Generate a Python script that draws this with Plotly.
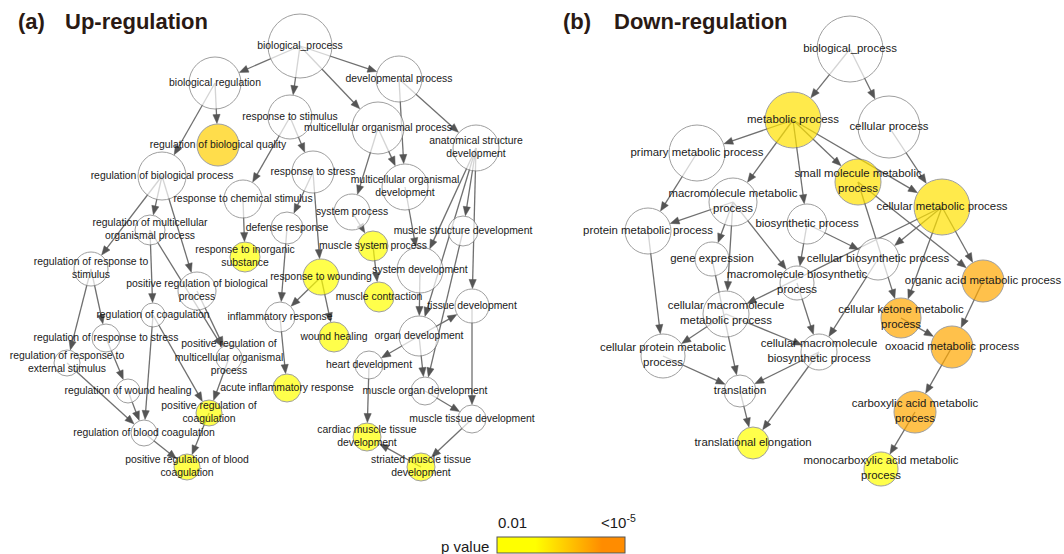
import math
import plotly.graph_objects as go

# ---------------- Panel (a): Up-regulation ----------------
a_names = ["bp", "breg", "dev", "rstim", "mop", "asd", "rbq", "rbp", "rstress", "mod",
           "rchem", "sysp", "defr", "rmop", "msd", "msp", "rinorg", "rrs", "sysdev", "rwound",
           "prbp", "mcon", "tdev", "rcoag", "infl", "odev", "wheal", "rrstress", "prmop", "rrext",
           "hdev", "acute", "rwh", "modev", "prcoag", "mtdev", "rbc", "cmtd", "prbc", "smtd"]
a_labels = ["biological_process", "biological regulation", "developmental process",
            "response to stimulus", "multicellular organismal process",
            "anatomical structure<br>development", "regulation of biological quality",
            "regulation of biological process", "response to stress",
            "multicellular organismal<br>development", "response to chemical stimulus",
            "system process", "defense response",
            "regulation of multicellular<br>organismal process",
            "muscle structure development", "muscle system process",
            "response to inorganic<br>substance", "regulation of response to<br>stimulus",
            "system development", "response to wounding",
            "positive regulation of biological<br>process", "muscle contraction",
            "tissue development", "regulation of coagulation", "inflammatory response",
            "organ development", "wound healing", "regulation of response to stress",
            "positive regulation of<br>multicellular organismal<br>process",
            "regulation of response to<br>external stimulus", "heart development",
            "acute inflammatory response", "regulation of wound healing",
            "muscle organ development", "positive regulation of<br>coagulation",
            "muscle tissue development", "regulation of blood coagulation",
            "cardiac muscle tissue<br>development", "positive regulation of blood<br>coagulation",
            "striated muscle tissue<br>development"]
a_x = [300, 215, 399, 290, 378, 476, 218, 162, 313, 405,
       243, 352, 287, 150, 463, 373, 245, 91, 420, 321,
       197, 379, 472, 153, 280, 419, 334, 106, 229, 67,
       369, 287, 128, 425, 209, 472, 144, 367, 187, 421]
a_y = [46, 83, 79, 117, 128, 148, 145, 176, 172, 187,
       199, 212, 228, 230, 231, 246, 257, 269, 270, 277,
       291, 297, 306, 315, 317, 336, 337, 338, 358, 363,
       365, 388, 391, 391, 413, 419, 433, 437, 467, 467]
a_r = [32, 26, 23, 22, 26, 23, 21, 24, 21, 23,
       19, 18, 16, 15, 15, 15, 15, 17, 23, 18,
       19, 15, 17, 12, 15, 20, 15, 14, 13, 13,
       14, 14, 12, 14, 13, 14, 13, 14, 13, 14]
# -log10(p) for significant terms, None = not significant (white)
a_score = [None, None, None, None, None, None, 3.55, None, None, None,
           None, None, None, None, None, 2.4, 2.4, None, None, 2.4,
           None, 2.4, None, None, None, None, 2.4, None, None, None,
           None, 2.4, None, None, 2.4, None, None, 2.4, 2.4, 2.4]
a_src = ["bp", "bp", "bp", "bp", "breg", "breg", "dev", "dev", "mop", "mop",
         "rstim", "rstim", "rstress", "rstress", "rchem", "defr", "rwound", "rwound", "infl",
         "sysp", "msp", "mod", "asd", "asd", "asd", "asd", "msd", "sysdev", "odev", "odev",
         "odev", "tdev", "modev", "hdev", "mtdev", "smtd",
         "rbp", "rbp", "rbp", "rmop", "rmop", "prbp", "rrs", "rrs", "rcoag", "rcoag",
         "rrstress", "rrext", "rwh", "prmop", "prcoag", "rbc"]
a_dst = ["breg", "dev", "rstim", "mop", "rbq", "rbp", "mod", "asd", "mod", "sysp",
         "rchem", "rstress", "defr", "rwound", "rinorg", "infl", "infl", "wheal", "acute",
         "msp", "mcon", "sysdev", "sysdev", "msd", "tdev", "odev", "modev", "odev", "tdev", "hdev",
         "modev", "mtdev", "mtdev", "cmtd", "smtd", "cmtd",
         "rmop", "rrs", "prbp", "rcoag", "prmop", "prmop", "rrext", "rrstress", "rbc", "prcoag",
         "rwh", "rbc", "rbc", "prcoag", "prbc", "prbc"]

# ---------------- Panel (b): Down-regulation ----------------
b_names = ["bp", "met", "cell", "prim", "small", "macro", "cmet", "bios", "prot", "cbios",
           "gene", "oacid", "mbios", "cmmp", "cket", "oxo", "cmbios", "cprot", "trans", "carb",
           "elong", "mono"]
b_labels = ["biological_process", "metabolic process", "cellular process",
            "primary metabolic process", "small molecule metabolic<br>process",
            "macromolecule metabolic<br>process", "cellular metabolic process",
            "biosynthetic process", "protein metabolic process",
            "cellular biosynthetic process", "gene expression",
            "organic acid metabolic process", "macromolecule biosynthetic<br>process",
            "cellular macromolecule<br>metabolic process",
            "cellular ketone metabolic<br>process", "oxoacid metabolic process",
            "cellular macromolecule<br>biosynthetic process",
            "cellular protein metabolic<br>process", "translation",
            "carboxylic acid metabolic<br>process", "translational elongation",
            "monocarboxylic acid metabolic<br>process"]
b_x = [850, 793, 889, 697, 858, 733, 942, 807, 648, 878,
       712, 983, 797, 726, 901, 952, 819, 663, 740, 915,
       753, 881]
b_y = [49, 120, 127, 153, 182, 202, 207, 224, 231, 259,
       259, 281, 283, 314, 318, 347, 352, 356, 391, 412,
       443, 469]
b_r = [33, 28, 31, 28, 23, 24, 28, 20, 23, 21,
       17, 21, 17, 23, 20, 21, 18, 22, 16, 21,
       16, 17]
b_score = [None, 3.3, None, None, 3.3, None, 3.3, None, None, None,
           None, 4.1, None, None, 4.1, 4.1, None, None, None, 4.1,
           2.4, 2.4]
b_src = ["bp", "bp", "met", "met", "met", "met", "met", "cell", "prim", "macro", "macro",
         "macro", "macro", "bios", "bios", "small", "small", "cmet", "cmet", "cmet", "cmet",
         "cbios", "mbios", "cmmp", "cmmp", "prot", "cprot", "gene", "cmbios", "cmbios", "trans",
         "oacid", "cket", "oxo", "carb"]
b_dst = ["met", "cell", "prim", "macro", "small", "bios", "cmet", "cmet", "prot", "prot", "gene",
         "cmmp", "mbios", "mbios", "cbios", "cket", "oacid", "oacid", "cbios", "cket", "cmmp",
         "cmbios", "cmbios", "cmbios", "cprot", "cprot", "trans", "trans", "trans", "elong", "elong",
         "oxo", "oxo", "carb", "mono"]

# legend
p_ticks = ["0.01", "<10<sup>-5</sup>"]
score_min, score_max = 2, 5

COLORSCALE = [[0.0, "#FFFF00"], [0.3, "#FFFF00"], [0.55, "#FFC800"],
              [0.82, "#FF8C00"], [1.0, "#FF8C00"]]
HEAD_LEN = 9
HEAD_HW = 3.6
FONT = "Arial, Liberation Sans, sans-serif"


def edges(names, xs, ys, rs, src, dst):
    idx = {n: i for i, n in enumerate(names)}
    lx, ly, tx, ty = [], [], [], []
    for s, d in zip(src, dst):
        i, j = idx[s], idx[d]
        x0, y0, x1, y1 = xs[i], ys[i], xs[j], ys[j]
        L = math.hypot(x1 - x0, y1 - y0)
        ux, uy = (x1 - x0) / L, (y1 - y0) / L
        tipx, tipy = x1 - ux * (rs[j] + 0.5), y1 - uy * (rs[j] + 0.5)
        bx, by = tipx - ux * HEAD_LEN, tipy - uy * HEAD_LEN
        lx += [x0, bx + ux, None]
        ly += [y0, by + uy, None]
        px, py = -uy, ux
        tx += [tipx, bx + px * HEAD_HW, bx - px * HEAD_HW, tipx, None]
        ty += [tipy, by + py * HEAD_HW, by - py * HEAD_HW, tipy, None]
    return lx, ly, tx, ty


fig = go.Figure()


def add_panel(names, labels, xs, ys, rs, scores, src, dst, fsize, showscale):
    lx, ly, tx, ty = edges(names, xs, ys, rs, src, dst)
    fig.add_trace(go.Scatter(x=lx, y=ly, mode="lines", line=dict(color="#707070", width=1.3),
                             hoverinfo="skip", showlegend=False))
    fig.add_trace(go.Scatter(x=tx, y=ty, mode="lines", fill="toself", fillcolor="#555555",
                             line=dict(color="#555555", width=0.5),
                             hoverinfo="skip", showlegend=False))
    wi = [i for i, s in enumerate(scores) if s is None]
    ci = [i for i, s in enumerate(scores) if s is not None]
    fig.add_trace(go.Scatter(x=[xs[i] for i in wi], y=[ys[i] for i in wi], mode="markers",
                             marker=dict(size=[2 * rs[i] for i in wi], color="white",
                                         line=dict(color="#777777", width=1)),
                             hoverinfo="skip", showlegend=False))
    cb = dict(orientation="h", x=561 / 1064, xanchor="center", y=0, yanchor="bottom",
              len=128, lenmode="pixels", thickness=16, thicknessmode="pixels",
              outlinewidth=1, outlinecolor="#555555", showticklabels=False, ticks="",
              xpad=0, ypad=0)
    fig.add_trace(go.Scatter(x=[xs[i] for i in ci], y=[ys[i] for i in ci], mode="markers",
                             marker=dict(size=[2 * rs[i] for i in ci],
                                         color=[scores[i] for i in ci],
                                         colorscale=COLORSCALE, cmin=score_min, cmax=score_max,
                                         showscale=showscale, colorbar=cb,
                                         line=dict(color="#777777", width=1)),
                             hoverinfo="skip", showlegend=False))
    fig.add_trace(go.Scatter(x=xs, y=ys, mode="text", text=labels, textposition="middle center",
                             textfont=dict(family=FONT, size=fsize, color="#1a1a1a"),
                             hoverinfo="skip", showlegend=False))


add_panel(a_names, a_labels, a_x, a_y, a_r, a_score, a_src, a_dst, 10.4, True)
add_panel(b_names, b_labels, b_x, b_y, b_r, b_score, b_src, b_dst, 11.4, False)

ann = []
title_font = dict(family=FONT, size=22, color="#2a1a14")
for txt, x in [("<b>(a)</b>", 16), ("<b>Up-regulation</b>", 63),
               ("<b>(b)</b>", 561), ("<b>Down-regulation</b>", 612)]:
    ann.append(dict(x=x, y=21, xref="x", yref="y", text=txt, showarrow=False,
                    xanchor="left", yanchor="middle", font=title_font))
leg_font = dict(family=FONT, size=15, color="#1a1a1a")
ann.append(dict(x=512, y=522, xref="x", yref="y", text=p_ticks[0], showarrow=False,
                xanchor="center", yanchor="middle", font=leg_font))
ann.append(dict(x=618, y=521, xref="x", yref="y", text=p_ticks[1], showarrow=False,
                xanchor="center", yanchor="middle", font=leg_font))
ann.append(dict(x=465, y=546, xref="x", yref="y", text="p value", showarrow=False,
                xanchor="center", yanchor="middle", font=leg_font))

fig.update_layout(
    width=1064, height=554,
    margin=dict(l=0, r=0, t=0, b=0, autoexpand=False),
    paper_bgcolor="white", plot_bgcolor="white",
    xaxis=dict(range=[0, 1064], visible=False, fixedrange=True),
    yaxis=dict(range=[554, 0], visible=False, fixedrange=True),
    annotations=ann,
    showlegend=False,
)

fig.write_html("out.html", config={"displayModeBar": False},
               post_script="document.body.style.margin='0px';document.body.style.overflow='hidden';")
